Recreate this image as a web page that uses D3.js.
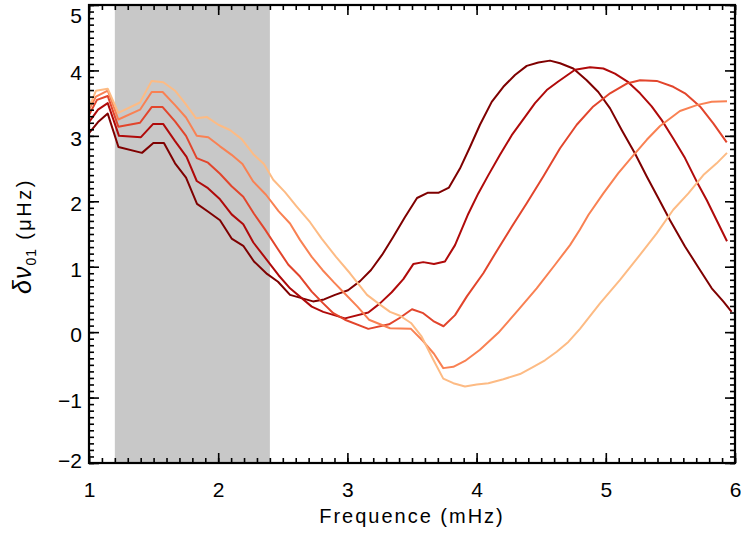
<!DOCTYPE html>
<html>
<head>
<meta charset="utf-8">
<script src="https://cdn.jsdelivr.net/npm/d3@7"></script>
<style>
  html, body { margin: 0; padding: 0; background: #fff; }
  svg { display: block; }
  text { font-family: "Liberation Sans", Arial, Helvetica, sans-serif; fill: #000; }
</style>
</head>
<body>
<svg id="chart" width="741" height="533"></svg>
<script>
// ---------- data ----------
const xDomain = [1, 6];
const yDomain = [-2, 5];
const xMajorTicks = [1, 2, 3, 4, 5, 6];
const yMajorTicks = [-2, -1, 0, 1, 2, 3, 4, 5];
const shadedBand = [1.2, 2.4];
const xLabel = "Frequence (mHz)";

const s1x = [1.000,1.070,1.145,1.228,1.410,1.498,1.580,1.666,1.751,1.836,1.923,2.014,2.104,2.194,2.277,2.378,2.463,2.556,2.734,2.819,2.904,3.005,3.098,3.183,3.268,3.353,3.446,3.539,3.620,3.704,3.786,3.871,3.949,4.026,4.117,4.207,4.297,4.388,4.478,4.568,4.646,4.748,4.852,4.942,5.033,5.123,5.226,5.317,5.406,5.497,5.613,5.729,5.820,5.909,5.974];
const s1y = [3.04,3.21,3.34,2.83,2.74,2.89,2.89,2.58,2.36,1.96,1.84,1.71,1.43,1.32,1.08,0.89,0.77,0.57,0.47,0.50,0.57,0.64,0.78,0.95,1.18,1.45,1.76,2.05,2.13,2.13,2.21,2.50,2.83,3.17,3.52,3.75,3.93,4.07,4.12,4.15,4.11,4.03,3.85,3.67,3.42,3.09,2.73,2.38,2.05,1.71,1.31,0.95,0.67,0.47,0.31];

const s2x = [1.000,1.070,1.145,1.232,1.402,1.495,1.575,1.666,1.755,1.834,1.921,2.014,2.104,2.194,2.272,2.370,2.467,2.556,2.724,2.813,2.981,3.162,3.252,3.343,3.433,3.510,3.587,3.670,3.755,3.833,3.936,4.013,4.091,4.181,4.272,4.375,4.452,4.543,4.632,4.762,4.878,4.981,5.071,5.174,5.265,5.355,5.433,5.522,5.613,5.704,5.781,5.858,5.938];
const s2y = [3.21,3.40,3.50,3.00,2.98,3.18,3.18,2.92,2.68,2.31,2.20,2.03,1.80,1.65,1.37,1.12,0.87,0.67,0.39,0.31,0.21,0.30,0.44,0.61,0.81,1.04,1.07,1.04,1.08,1.33,1.81,2.12,2.40,2.71,3.01,3.29,3.50,3.70,3.83,4.01,4.05,4.03,3.95,3.82,3.65,3.45,3.24,2.96,2.66,2.30,2.02,1.71,1.39];

const s3x = [1.000,1.062,1.145,1.227,1.395,1.485,1.570,1.666,1.751,1.834,1.921,2.014,2.104,2.194,2.277,2.362,2.455,2.543,2.633,2.724,2.813,2.891,2.981,3.162,3.322,3.407,3.500,3.587,3.665,3.744,3.833,3.926,4.052,4.168,4.272,4.388,4.516,4.646,4.775,4.903,5.033,5.162,5.265,5.394,5.522,5.613,5.729,5.832,5.936];
const s3y = [3.32,3.55,3.61,3.14,3.20,3.44,3.44,3.22,3.00,2.66,2.59,2.42,2.23,2.07,1.81,1.57,1.29,1.03,0.85,0.62,0.44,0.29,0.19,0.05,0.12,0.22,0.35,0.29,0.17,0.09,0.26,0.55,0.90,1.28,1.61,1.97,2.38,2.81,3.17,3.45,3.65,3.80,3.85,3.84,3.75,3.65,3.45,3.19,2.90];

const s4x = [1.000,1.054,1.145,1.227,1.395,1.485,1.570,1.666,1.751,1.834,1.923,2.014,2.104,2.188,2.272,2.370,2.467,2.556,2.633,2.724,2.807,2.896,2.985,3.078,3.167,3.330,3.492,3.587,3.670,3.742,3.820,3.910,4.026,4.168,4.323,4.465,4.607,4.723,4.800,4.865,4.981,5.097,5.203,5.317,5.420,5.574,5.704,5.820,5.938];
const s4y = [3.40,3.60,3.69,3.25,3.40,3.67,3.67,3.47,3.28,3.00,2.98,2.84,2.71,2.57,2.30,2.10,1.85,1.66,1.41,1.15,0.95,0.76,0.58,0.39,0.19,0.06,0.05,-0.14,-0.33,-0.55,-0.53,-0.44,-0.27,-0.01,0.34,0.67,1.03,1.33,1.57,1.79,2.12,2.43,2.68,2.94,3.15,3.38,3.47,3.52,3.53];

const s5x = [1.000,1.054,1.145,1.227,1.395,1.485,1.575,1.666,1.743,1.828,1.911,2.001,2.091,2.182,2.272,2.354,2.426,2.517,2.608,2.711,2.801,2.912,3.020,3.152,3.239,3.330,3.407,3.492,3.575,3.659,3.742,3.820,3.910,4.001,4.091,4.207,4.336,4.439,4.529,4.620,4.710,4.800,4.955,5.110,5.252,5.394,5.522,5.639,5.755,5.858,5.938];
const s5y = [3.43,3.69,3.72,3.35,3.51,3.84,3.82,3.69,3.50,3.27,3.29,3.17,3.09,2.95,2.72,2.57,2.33,2.14,1.92,1.68,1.43,1.15,0.90,0.57,0.44,0.31,0.25,0.14,-0.07,-0.40,-0.71,-0.78,-0.83,-0.80,-0.78,-0.72,-0.64,-0.53,-0.43,-0.30,-0.15,0.05,0.44,0.80,1.15,1.51,1.87,2.12,2.40,2.58,2.74];

const seriesX = [s1x, s2x, s3x, s4x, s5x];
const seriesY = [s1y, s2y, s3y, s4y, s5y];
const seriesColors = ["#7f0000", "#b00a0a", "#e2452c", "#f98153", "#fdbb84"];

// ---------- layout ----------
const svg = d3.select("#chart");
const L = 89, R = 735, T = 5, B = 463;
const x = d3.scaleLinear().domain(xDomain).range([L, R]);
const y = d3.scaleLinear().domain(yDomain).range([B, T]);
const fmt = d3.format("d");

// shaded band
svg.append("rect")
  .attr("x", x(shadedBand[0]))
  .attr("y", T)
  .attr("width", x(shadedBand[1]) - x(shadedBand[0]))
  .attr("height", B - T)
  .attr("fill", "#c8c8c8");

// series
const line = d3.line().x(d => x(d[0])).y(d => y(d[1]));
seriesX.forEach((xs, i) => {
  const pts = xs.map((v, j) => [v, seriesY[i][j]]);
  svg.append("path")
    .datum(pts)
    .attr("d", line)
    .attr("fill", "none")
    .attr("stroke", seriesColors[i])
    .attr("stroke-width", 2)
    .attr("stroke-linejoin", "round");
});

// ticks
const xMinor = d3.range(10, 61).map(d => d / 10);
const yMinor = d3.range(-20, 51).map(d => d / 10);

function addAxis(axisFn, scale, transform, values, size, labels) {
  const a = axisFn(scale).tickValues(values).tickSize(-size);
  a.tickFormat(labels ? fmt : () => "");
  const g = svg.append("g").attr("transform", transform);
  g.call(a);
  g.select(".domain").remove();
  g.selectAll(".tick line").attr("stroke", "#000").attr("stroke-width", 1.6);
  return g;
}

// minor ticks
addAxis(d3.axisBottom, x, `translate(0,${B})`, xMinor, 5, false);
addAxis(d3.axisTop, x, `translate(0,${T})`, xMinor, 5, false);
addAxis(d3.axisLeft, y, `translate(${L},0)`, yMinor, 5, false);
addAxis(d3.axisRight, y, `translate(${R},0)`, yMinor, 5, false);
// major ticks
const xb = addAxis(d3.axisBottom, x, `translate(0,${B})`, xMajorTicks, 10, true);
xb.selectAll(".tick text")
  .attr("font-size", 21).attr("y", 34).attr("dy", 0);
addAxis(d3.axisTop, x, `translate(0,${T})`, xMajorTicks, 10, false);
const yl = addAxis(d3.axisLeft, y, `translate(${L},0)`, yMajorTicks, 10, true);
yl.selectAll(".tick text")
  .attr("font-size", 21)
  .attr("x", -7)
  .attr("dy", 0)
  .attr("y", d => Math.min(Math.max(y(d) + 2, 14.5), 459.5) - y(d) + 7.5)
  .attr("text-anchor", "end");
addAxis(d3.axisRight, y, `translate(${R},0)`, yMajorTicks, 10, false);

// frame
svg.append("rect")
  .attr("x", L).attr("y", T)
  .attr("width", R - L).attr("height", B - T)
  .attr("fill", "none").attr("stroke", "#000").attr("stroke-width", 2.2);

// x title
svg.append("text")
  .attr("x", (L + R) / 2)
  .attr("y", 523)
  .attr("text-anchor", "middle")
  .attr("font-size", 20)
  .style("letter-spacing", "2px")
  .text(xLabel);

// y title
const yt = svg.append("text")
  .attr("transform", `translate(31,${(T + B) / 2 + 2}) rotate(-90)`)
  .attr("text-anchor", "middle")
  .attr("font-size", 20);
yt.append("tspan").attr("font-style", "italic").attr("font-size", 25).style("letter-spacing", "1px").text("δν");
yt.append("tspan").attr("font-size", 14).attr("dy", 5).style("letter-spacing", "1px").text("01");
yt.append("tspan").attr("dy", -5).style("letter-spacing", "2.5px").text("  (μHz)");
</script>
</body>
</html>
